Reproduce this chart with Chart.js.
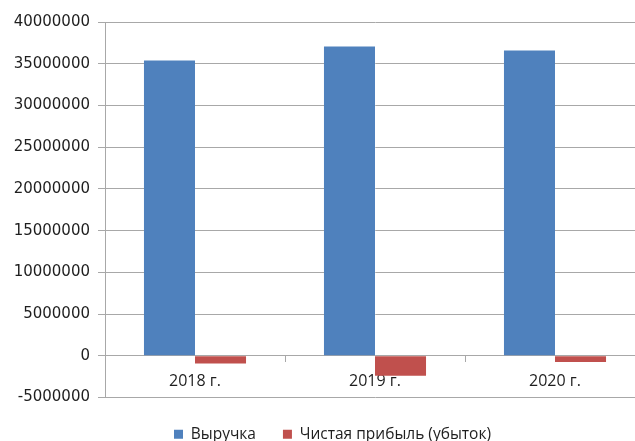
<!DOCTYPE html>
<html>
<head>
<meta charset="utf-8">
<script src="https://cdn.jsdelivr.net/npm/chart.js@4/dist/chart.umd.min.js"></script>
<style>
  html, body { margin: 0; padding: 0; background: #fff; overflow: hidden; }
  #wrap { position: relative; width: 645px; height: 441px; }
</style>
</head>
<body>
<div id="wrap"><canvas id="c"></canvas></div>
<script>
const categories = ['2018 г.', '2019 г.', '2020 г.'];
const revenue = [35400000, 37060000, 36570000];
const netProfit = [-920000, -2400000, -760000];
const seriesNames = ['Выручка', 'Чистая прибыль (убыток)'];
const yMin = -5000000, yMax = 40000000, yStep = 5000000;

const gridColor = '#a8a8a8';
const textColor = '#1e1e1e';

const legendShift = {
  id: 'legendShift',
  afterLayout(chart) {
    const l = chart.legend;
    if (l) { l.left += 10; l.right += 10; l.top += 2; l.bottom += 2; }
  }
};

new Chart(document.getElementById('c'), {
  type: 'bar',
  data: {
    labels: categories,
    datasets: [
      { label: seriesNames[0], data: revenue, backgroundColor: '#4F81BD', borderWidth: 0 },
      { label: seriesNames[1], data: netProfit, backgroundColor: '#C0504D', borderWidth: 0 }
    ]
  },
  plugins: [legendShift],
  options: {
    responsive: true,
    maintainAspectRatio: false,
    animation: false,
    devicePixelRatio: 1,
    datasets: { bar: { categoryPercentage: 0.567, barPercentage: 1.0 } },
    layout: { padding: { top: 22, left: 0, right: 0, bottom: -9 } },
    plugins: {
      tooltip: { enabled: false },
      legend: {
        position: 'bottom',
        labels: {
          boxWidth: 9, boxHeight: 9, padding: 27,
          color: textColor,
          font: { family: 'Open Sans', size: 15.5 }
        }
      }
    },
    scales: {
      x: {
        position: { y: 0 },
        grid: { display: true, drawOnChartArea: false, drawTicks: true, tickLength: 6, color: gridColor, offset: true },
        border: { display: true, color: gridColor, width: 1 },
        ticks: { color: textColor, font: { family: 'Open Sans', size: 16 }, padding: 10, maxRotation: 0 }
      },
      y: {
        min: yMin, max: yMax,
        afterFit: (s) => { s.width = 105; },
        grid: { color: gridColor, lineWidth: 1, tickLength: 7, drawTicks: true },
        border: { display: true, color: gridColor, width: 1 },
        ticks: {
          stepSize: yStep, padding: 8, color: textColor,
          font: { family: 'DejaVu Sans', size: 15 },
          callback: (v) => String(v)
        }
      }
    }
  }
});
</script>
</body>
</html>
